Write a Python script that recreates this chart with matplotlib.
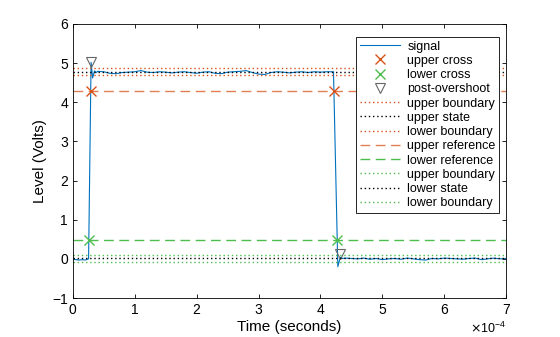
import numpy as np
import matplotlib
matplotlib.use('Agg')
import matplotlib.pyplot as plt
from matplotlib.ticker import ScalarFormatter

plt.rcParams['font.family'] = ['Liberation Sans', 'DejaVu Sans']

# sampled pulse (seconds, volts)
t_sig = [0, 5e-6, 1e-5, 1.5e-5, 2e-5, 2.55e-5,
         2.95e-5, 3.2e-5, 3.5e-5, 3.8e-5,
         4e-5, 5e-5, 6e-5, 7e-5, 8e-5, 9e-5, 10e-5, 11e-5, 12e-5, 13e-5,
         14e-5, 15e-5, 16e-5, 17e-5, 18e-5, 19e-5, 20e-5, 21e-5, 22e-5, 23e-5,
         24e-5, 25e-5, 26e-5, 27e-5, 28e-5, 29e-5, 30e-5, 31e-5, 32e-5, 33e-5,
         34e-5, 35e-5, 36e-5, 37e-5, 38e-5, 39e-5, 40e-5, 41e-5, 4.21e-4,
         4.28e-4, 4.32e-4, 4.36e-4,
         4.4e-4, 4.5e-4, 4.6e-4, 4.7e-4, 4.8e-4, 4.9e-4, 5.0e-4, 5.1e-4, 5.2e-4,
         5.3e-4, 5.4e-4, 5.5e-4, 5.6e-4, 5.7e-4, 5.8e-4, 5.9e-4, 6.0e-4, 6.1e-4,
         6.2e-4, 6.3e-4, 6.4e-4, 6.5e-4, 6.6e-4, 6.7e-4, 6.8e-4, 6.9e-4, 7.0e-4]
v_sig = [0.0, -0.02, -0.03, -0.02, -0.03, 0.0,
         5.02, 4.62, 4.80, 4.76,
         4.79, 4.78, 4.74, 4.73, 4.76, 4.77, 4.78, 4.81, 4.77, 4.76,
         4.78, 4.77, 4.75, 4.77, 4.78, 4.76, 4.74, 4.77, 4.78, 4.74,
         4.73, 4.77, 4.78, 4.79, 4.81, 4.76, 4.72, 4.71, 4.76, 4.78,
         4.77, 4.75, 4.77, 4.78, 4.76, 4.78, 4.77, 4.78, 4.78,
         -0.20, 0.04, 0.01,
         0.02, 0.01, 0.00, 0.02, -0.01, 0.01, -0.02, 0.00, 0.01,
         -0.01, 0.02, 0.00, -0.02, -0.03, 0.01, 0.00, 0.02, 0.01,
         0.00, -0.01, 0.01, 0.02, -0.02, 0.00, 0.02, 0.00, 0.01]

upper_state = 4.78
lower_state = 0.01
tol = 0.095
upper_ref = 4.30
lower_ref = 0.49

upper_cross_t = [2.90e-5, 4.217e-4]
lower_cross_t = [2.59e-5, 4.27e-4]
overshoot_t = [2.95e-5, 4.31e-4]
overshoot_v = [5.02, 0.13]

orange = '#D95319'
green = '#4DBE4D'
dot = (0, (1, 2))
dash = (0, (7, 4))

fig = plt.figure(figsize=(5.6, 3.37), dpi=100)
ax = fig.add_axes([0.130, 0.1157, 0.774, 0.8131])

ax.plot(t_sig, v_sig, color='#0072BD', lw=0.8, label='signal')
ax.plot(upper_cross_t, [upper_ref] * 2, 'x', color=orange, ms=7, mew=1, label='upper cross')
ax.plot(lower_cross_t, [lower_ref] * 2, 'x', color=green, ms=7, mew=1, label='lower cross')
ax.plot(overshoot_t, overshoot_v, 'v', mfc='none', mec='#666666', ms=7, mew=0.8, label='post-overshoot')

ax.axhline(upper_state + tol, color=orange, ls=dot, lw=1, label='upper boundary')
ax.axhline(upper_state, color='black', ls=dot, lw=1, label='upper state')
ax.axhline(upper_state - tol, color=orange, ls=dot, lw=1, label='lower boundary')
ax.axhline(upper_ref, color=orange, ls=dash, lw=1, alpha=0.75, label='upper reference')
ax.axhline(lower_ref, color=green, ls=dash, lw=1, label='lower reference')
ax.axhline(lower_state + tol, color=green, ls=dot, lw=1, label='upper boundary')
ax.axhline(lower_state, color='black', ls=dot, lw=1, label='lower state')
ax.axhline(lower_state - tol, color=green, ls=dot, lw=1, label='lower boundary')

ax.set_xlim(0, 7e-4)
ax.set_ylim(-1, 6)
ax.set_xticks(np.arange(0, 8e-4, 1e-4))
ax.set_yticks(np.arange(-1, 7, 1))
fmt = ScalarFormatter(useMathText=True)
fmt.set_powerlimits((-3, 3))
ax.xaxis.set_major_formatter(fmt)
ax.tick_params(direction='in', length=3, width=0.6, labelsize=10, top=True, right=True)
for s in ax.spines.values():
    s.set_linewidth(0.6)
ax.xaxis.get_offset_text().set_fontsize(9)

ax.set_xlabel('Time (seconds)', fontsize=11, labelpad=2)
ax.set_ylabel('Level (Volts)', fontsize=11, labelpad=4)

leg = ax.legend(loc='upper right', bbox_to_anchor=(0.984, 0.953), fontsize=9,
                fancybox=False, framealpha=1, edgecolor='black', borderaxespad=0,
                handlelength=3.2, labelspacing=0.18, borderpad=0.3, handletextpad=0.6)
leg.get_frame().set_linewidth(0.6)

fig.savefig('out.png', dpi=100)
